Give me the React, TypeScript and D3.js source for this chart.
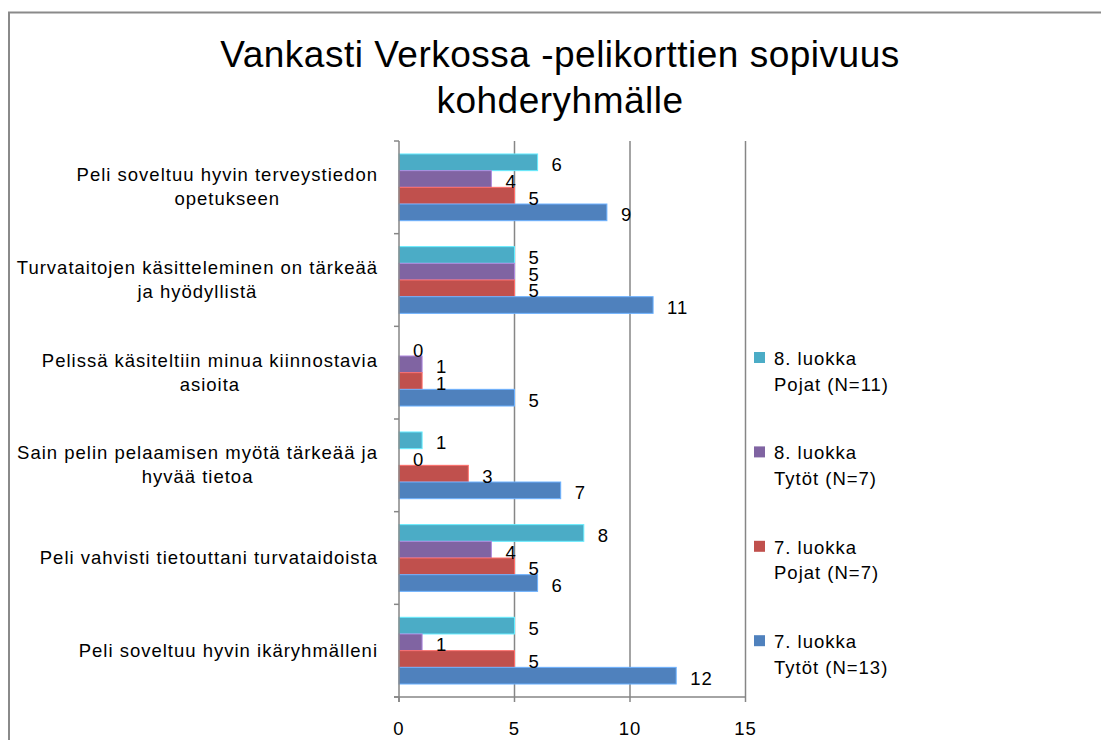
import React, { useEffect, useRef } from 'react';
import * as d3 from 'd3';

// categories, top to bottom
const categories = [
  ['Peli soveltuu hyvin terveystiedon', 'opetukseen'],
  ['Turvataitojen käsitteleminen on tärkeää', 'ja hyödyllistä'],
  ['Pelissä käsiteltiin minua kiinnostavia', 'asioita'],
  ['Sain pelin pelaamisen myötä tärkeää ja', 'hyvää tietoa'],
  ['Peli vahvisti tietouttani turvataidoista'],
  ['Peli soveltuu hyvin ikäryhmälleni'],
];

// series, in the order they appear top to bottom inside a group (and in the legend)
const seriesNames = [
  ['8. luokka', 'Pojat (N=11)'],
  ['8. luokka', 'Tytöt (N=7)'],
  ['7. luokka', 'Pojat (N=7)'],
  ['7. luokka', 'Tytöt (N=13)'],
];
const seriesColors = ['#4BACC6', '#8064A2', '#C0504D', '#4F81BD'];

const pojat8 = [6, 5, 0, 1, 8, 5];
const tytot8 = [4, 5, 1, 0, 4, 1];
const pojat7 = [5, 5, 1, 3, 5, 5];
const tytot7 = [9, 11, 5, 7, 6, 12];
const values = [pojat8, tytot8, pojat7, tytot7];

const xTicks = [0, 5, 10, 15];

const titleLines = ['Vankasti Verkossa -pelikorttien sopivuus', 'kohderyhmälle'];

const FONT = '"Liberation Sans", Arial, sans-serif';
const FS = 18.5;
const LS = 1; // letter spacing, the original text is loosely set

export default function App() {
  const ref = useRef<SVGSVGElement | null>(null);

  useEffect(() => {
    const svg = d3.select(ref.current);
    svg.selectAll('*').remove();

    const left = 399, right = 745.5, top = 141, bottom = 697;
    const x = d3.scaleLinear().domain([0, 15]).range([left, right]);
    const y = d3.scaleBand<number>()
      .domain(d3.range(categories.length))
      .range([top, bottom])
      .paddingInner(0.28)
      .paddingOuter(0.14);
    const ySub = d3.scaleBand<number>()
      .domain(d3.range(values.length))
      .range([0, y.bandwidth()]);
    const step = (bottom - top) / categories.length;

    const txt = (sel: any) => sel
      .attr('font-family', FONT).attr('font-size', FS)
      .attr('letter-spacing', LS)
      .attr('fill', '#000');

    // outer border
    svg.append('rect')
      .attr('x', 9).attr('y', 12.5)
      .attr('width', 1200).attr('height', 900)
      .attr('fill', 'none').attr('stroke', '#8a8a8a').attr('stroke-width', 2);

    // title
    titleLines.forEach((t, i) => {
      svg.append('text')
        .attr('x', 560).attr('y', 67 + i * 46)
        .attr('text-anchor', 'middle')
        .attr('font-family', FONT).attr('font-size', 37)
        .attr('letter-spacing', 0.5)
        .attr('fill', '#000')
        .text(t);
    });

    // gridlines
    svg.append('g').selectAll('line')
      .data(xTicks.slice(1))
      .join('line')
      .attr('x1', d => x(d)).attr('x2', d => x(d))
      .attr('y1', top).attr('y2', bottom)
      .attr('stroke', '#868686').attr('stroke-width', 1.5);

    // bars
    const gBars = svg.append('g');
    values.forEach((vals, s) => {
      gBars.selectAll(null)
        .data(vals)
        .join('rect')
        .attr('x', x(0))
        .attr('y', (d, i) => y(i)! + ySub(s)!)
        .attr('width', d => x(d) - x(0))
        .attr('height', ySub.bandwidth())
        .attr('fill', seriesColors[s])
        .attr('stroke', d3.color(seriesColors[s])!.brighter(0.9).formatHex())
        .attr('stroke-width', 1);
    });

    // value labels
    values.forEach((vals, s) => {
      gBars.selectAll(null)
        .data(vals)
        .join('text')
        .attr('x', d => x(d) + 14)
        .attr('y', (d, i) => y(i)! + ySub(s)! + ySub.bandwidth() / 2 + 9)
        .call(txt)
        .text(d => d);
    });

    // axes
    const axisColor = '#868686';
    svg.append('line')
      .attr('x1', left).attr('x2', left).attr('y1', top).attr('y2', bottom + 5)
      .attr('stroke', axisColor).attr('stroke-width', 1.5);
    svg.append('line')
      .attr('x1', left - 5).attr('x2', right).attr('y1', bottom).attr('y2', bottom)
      .attr('stroke', axisColor).attr('stroke-width', 1.5);
    svg.append('g').selectAll('line')
      .data(d3.range(categories.length + 1))
      .join('line')
      .attr('x1', left - 5).attr('x2', left)
      .attr('y1', d => top + d * step).attr('y2', d => top + d * step)
      .attr('stroke', axisColor).attr('stroke-width', 1.5);
    svg.append('g').selectAll('line')
      .data(xTicks)
      .join('line')
      .attr('x1', d => x(d)).attr('x2', d => x(d))
      .attr('y1', bottom).attr('y2', bottom + 5)
      .attr('stroke', axisColor).attr('stroke-width', 1.5);
    svg.append('g').selectAll('text')
      .data(xTicks)
      .join('text')
      .attr('x', d => x(d)).attr('y', 735)
      .attr('text-anchor', 'middle')
      .call(txt)
      .text(d => d);

    // category labels: lines centred, block right-aligned next to the axis
    const labelRight = 378;
    categories.forEach((lines, i) => {
      const g = svg.append('g');
      const cy = y(i)! + y.bandwidth() / 2;
      const lh = 24;
      const texts = lines.map((ln, j) => g.append('text')
        .attr('y', cy + 6 + (j - (lines.length - 1) / 2) * lh)
        .attr('text-anchor', 'middle')
        .call(txt)
        .text(ln));
      const w = d3.max(texts, t => (t.node() as SVGTextElement).getComputedTextLength()) || 0;
      texts.forEach(t => t.attr('x', labelRight - w / 2));
    });

    // legend
    seriesNames.forEach((lines, s) => {
      const by = 365 + s * 94.4;
      svg.append('rect')
        .attr('x', 754).attr('y', by - 13)
        .attr('width', 11).attr('height', 11)
        .attr('fill', seriesColors[s]);
      lines.forEach((ln, j) => {
        svg.append('text')
          .attr('x', 774).attr('y', by + j * 25.5)
          .call(txt)
          .text(ln);
      });
    });
  }, []);

  return (
    <svg
      ref={ref}
      width={1101}
      height={740}
      style={{ position: 'absolute', left: 0, top: 0, background: '#fff' }}
    />
  );
}
